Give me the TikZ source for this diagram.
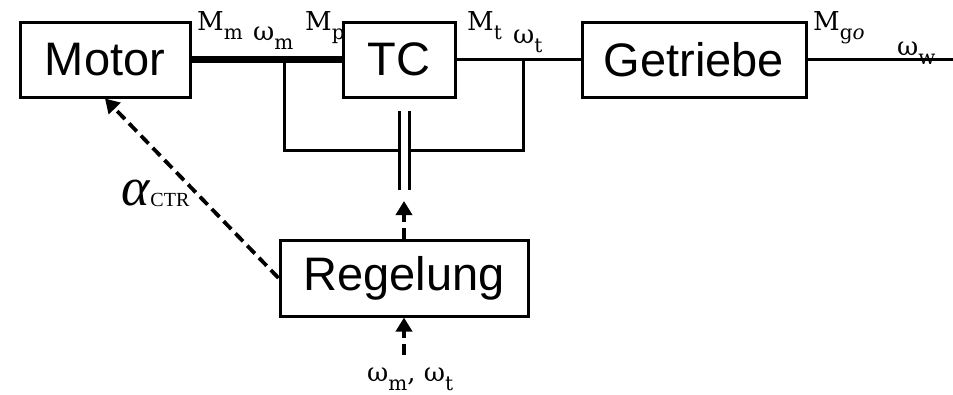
\documentclass[tikz,border=0pt]{standalone}
\usepackage{fontspec}
\setmainfont{DejaVu Serif}
\newfontfamily\arialf{Liberation Sans}
\newfontfamily\timesf{Liberation Serif}
\usetikzlibrary{arrows.meta}
\newcommand\sbsc[1]{\raisebox{-9pt}{\fontsize{20}{20}\selectfont #1}}
\tikzset{
  blk/.style={draw, line width=3pt, minimum height=75pt, inner sep=0pt, font=\arialf\fontsize{47}{47}\selectfont},
  thin/.style={line width=3pt},
  thick/.style={line width=7pt},
  dasharrow/.style={line width=3.8pt, dash pattern=on 11pt off 6pt, -{Triangle[length=14pt,width=16pt]}},
  lbl/.style={inner sep=0pt, anchor=base west, font=\fontsize{26}{26}\selectfont},
}
\begin{document}
\begin{tikzpicture}[x=1pt,y=-1pt]
\useasboundingbox (0,0) rectangle (953,394);
\node[blk, minimum width=170pt] (motor) at (105,59.5) {Motor};
\node[blk, minimum width=112pt] (tc) at (399,59.5) {TC};
\node[blk, minimum width=224pt] (getr) at (694,59.5) {Getriebe};
\node[blk, minimum width=248pt, minimum height=76pt] (reg) at (404,278) {Regelung};
\coordinate (bm) at (284,59.5);
\coordinate (bt) at (523,59.5);
\coordinate (cl) at (399,150);
\coordinate (cr) at (409,150);
\coordinate (cla) at (399,111);
\coordinate (clb) at (399,190);
\coordinate (cra) at (409,111);
\coordinate (crb) at (409,190);
\coordinate (tip) at (404,201);
\coordinate (inp) at (404,355);
\coordinate (outw) at (953,59.5);
\draw[thick] (motor.east) -- (tc.west);
\draw[thin] (tc.east) -- (getr.west);
\draw[thin] (getr.east) -- (outw);
\draw[thin] (bm) |- (cl);
\draw[thin] (bt) |- (cr);
\draw[thin] (cla) -- (clb);
\draw[thin] (cra) -- (crb);
\draw[dasharrow] (reg.north) -- (tip);
\draw[dasharrow] (inp) -- (reg.south);
\draw[dasharrow] (reg.west) -- (motor.south);
\node[lbl] (lmm) at (197,30) {M\sbsc{m}};
\node[lbl] (lwm) at (253,40) {ω\sbsc{m}};
\node[lbl] (lmp) at (305,30) {M\sbsc{p}};
\node[lbl] (lmt) at (467,30) {M\sbsc{t}};
\node[lbl] (lwt) at (513,43) {ω\sbsc{t}};
\node[lbl] (lmg) at (813,30) {M\sbsc{g\textit{o}}};
\node[lbl] (lww) at (897,55) {ω\sbsc{w}};
\node[lbl, font=\timesf\fontsize{54}{54}\selectfont] (lal) at (121,205) {\textit{α}\raisebox{-1pt}{\fontsize{20}{20}\selectfont CTR}};
\node[lbl] (lin) at (367,381) {ω\sbsc{m}, ω\sbsc{t}};
\end{tikzpicture}
\end{document}
